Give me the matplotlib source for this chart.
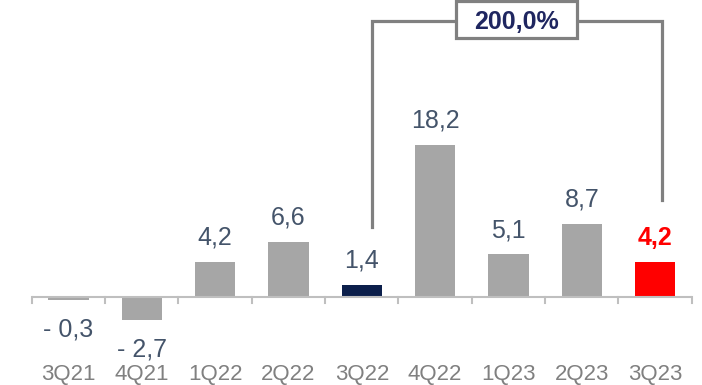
import matplotlib
matplotlib.use("Agg")
import matplotlib.pyplot as plt
from matplotlib.patches import Rectangle

plt.rcParams['font.family'] = ['Liberation Sans', 'DejaVu Sans']

quarters = ["3Q21", "4Q21", "1Q22", "2Q22", "3Q22", "4Q22", "1Q23", "2Q23", "3Q23"]
values = [-0.3, -2.7, 4.2, 6.6, 1.4, 18.2, 5.1, 8.7, 4.2]
value_labels = ["- 0,3", "- 2,7", "4,2", "6,6", "1,4", "18,2", "5,1", "8,7", "4,2"]
growth_label = "200,0%"

GRAY = "#A6A6A6"
NAVY = "#0C1F4B"
RED = "#FF0000"
LABEL_COLOR = "#44546A"
AXIS_COLOR = "#BFBFBF"
CAT_COLOR = "#808080"
BRACKET_COLOR = "#808080"

bar_colors = [GRAY] * len(values)
bar_colors[4] = NAVY
bar_colors[-1] = RED

fig = plt.figure(figsize=(7.02, 3.85), dpi=100)
ax = fig.add_axes([0, 0, 1, 1])
ax.set_axis_off()

x = list(range(len(quarters)))
ax.bar(x, values, width=0.55, color=bar_colors, zorder=2)

# Baseline and category separators
ax.plot([-0.5, len(quarters) - 0.5], [0, 0], color=AXIS_COLOR, lw=1.5, zorder=3,
        solid_capstyle="butt")
for b in range(len(quarters) + 1):
    ax.plot([b - 0.5, b - 0.5], [0, -0.7], color=AXIS_COLOR, lw=1.5, zorder=3)

# Value labels
for i, (v, lab) in enumerate(zip(values, value_labels)):
    last = i == len(values) - 1
    color = RED if last else LABEL_COLOR
    weight = "bold" if last else "normal"
    dy = 12.5 if v >= 0 else -26.6
    ax.annotate(lab, (i, v), xytext=(0, dy), textcoords="offset points",
                ha="center", va="baseline", fontsize=18, color=color,
                fontweight=weight)

# Category labels
for i, q in enumerate(quarters):
    ax.annotate(q, (i, 0), xytext=(0, -59.5), textcoords="offset points",
                ha="center", va="baseline", fontsize=16, color=CAT_COLOR)

# Growth bracket between 3Q22 and 3Q23
bx0, bx1 = 4.14, 8.10
btop = 33.05
ax.plot([bx0, bx0, bx1, bx1], [8.4, btop, btop, 11.6], color=BRACKET_COLOR,
        lw=2.3, zorder=4, solid_joinstyle="miter")
ax.add_patch(Rectangle((5.284, 31.0), 1.65, 4.45, facecolor="white",
                       edgecolor=BRACKET_COLOR, lw=2.3, zorder=5))
ax.text((5.284 + 6.934) / 2, (297 - 29) / 8.35, growth_label, ha="center",
        va="baseline", fontsize=18, fontweight="bold", color="#1F2660",
        zorder=6)

ax.set_xlim(-0.934, 8.639)
ax.set_ylim(-10.54, 35.57)

fig.savefig("out.png", dpi=100)
